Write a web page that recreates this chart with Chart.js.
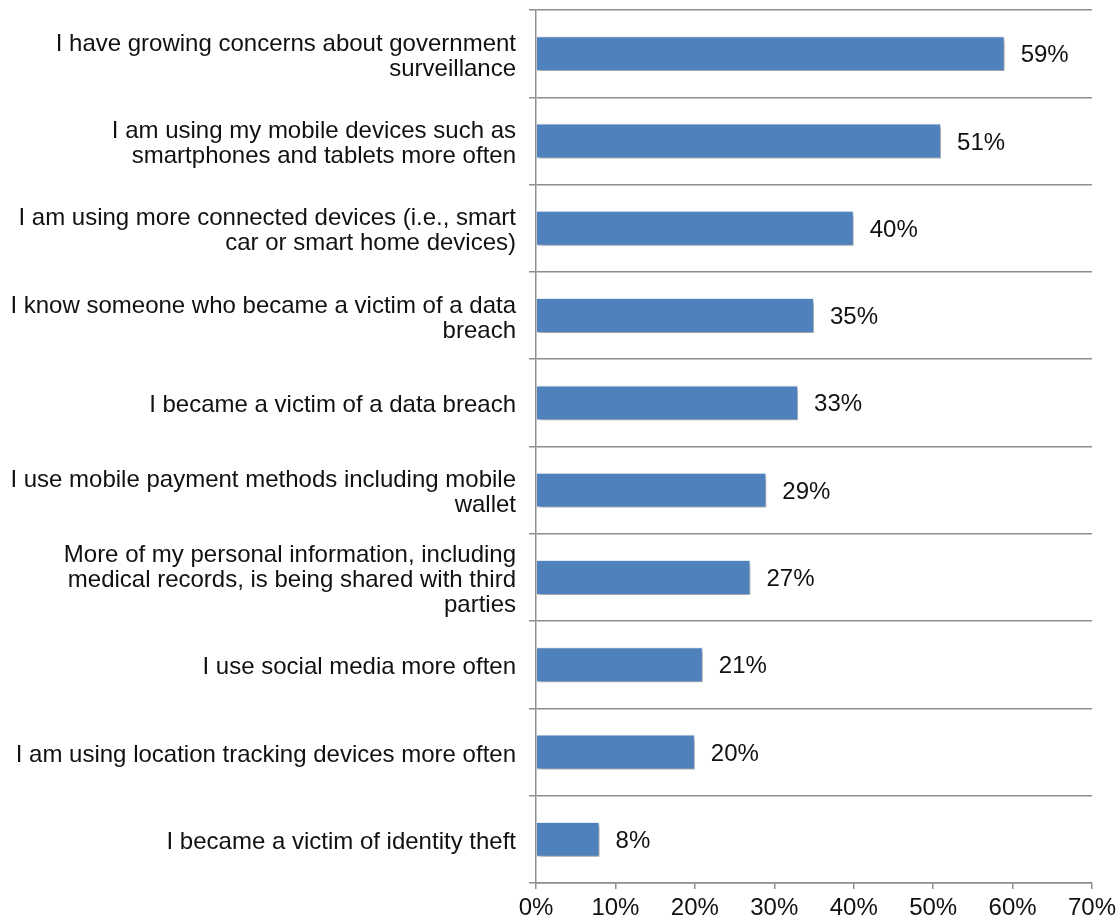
<!DOCTYPE html>
<html>
<head>
<meta charset="utf-8">
<script src="https://cdn.jsdelivr.net/npm/chart.js@4/dist/chart.umd.min.js"></script>
<style>
html,body{margin:0;padding:0;background:#fff;}
#wrap{width:1119px;height:919px;position:relative;}
</style>
</head>
<body>
<div id="wrap"><canvas id="c" width="1119" height="919"></canvas></div>
<script>
const categories = [
  ["I have growing concerns about government", "surveillance"],
  ["I am using my mobile devices such as", "smartphones and tablets more often"],
  ["I am using more connected devices (i.e., smart", "car or smart home devices)"],
  ["I know someone who became a victim of a data", "breach"],
  ["I became a victim of a data breach"],
  ["I use mobile payment methods including mobile", "wallet"],
  ["More of my personal information, including", "medical records, is being shared with third", "parties"],
  ["I use social media more often"],
  ["I am using location tracking devices more often"],
  ["I became a victim of identity theft"]
];
const values = [59, 51, 40, 35, 33, 29, 27, 21, 20, 8];
const xTicks = [0, 10, 20, 30, 40, 50, 60, 70];

const FONT = "'Liberation Sans', Arial, Helvetica, sans-serif";
const GRID = '#8e8e8e';

const shadowPlugin = {
  id: 'shadow',
  beforeDatasetDraw(chart) {
    const ctx = chart.ctx;
    ctx.save();
    ctx.shadowColor = 'rgba(0,0,0,0.35)';
    ctx.shadowBlur = 4;
    ctx.shadowOffsetX = 2;
    ctx.shadowOffsetY = 3;
  },
  afterDatasetDraw(chart) {
    chart.ctx.restore();
  }
};

const labelPlugin = {
  id: 'valueLabels',
  afterDatasetsDraw(chart) {
    const ctx = chart.ctx;
    const meta = chart.getDatasetMeta(0);
    ctx.save();
    ctx.font = '24px ' + FONT;
    ctx.fillStyle = '#111';
    ctx.textAlign = 'left';
    ctx.textBaseline = 'middle';
    meta.data.forEach((el, i) => {
      ctx.fillText(values[i] + '%', el.x + 16, el.y + 2);
    });
    ctx.restore();
  }
};

new Chart(document.getElementById('c'), {
  type: 'bar',
  data: {
    labels: categories,
    datasets: [{
      data: values,
      backgroundColor: '#4F81BD',
      borderColor: '#e8eef7',
      borderWidth: 1,
      barPercentage: 0.4,
      categoryPercentage: 1.0
    }]
  },
  options: {
    indexAxis: 'y',
    responsive: false,
    animation: false,
    layout: { padding: { top: 10, right: 27, left: 0, bottom: 0 } },
    plugins: { legend: { display: false }, tooltip: { enabled: false } },
    scales: {
      x: {
        min: 0, max: 70,
        afterBuildTicks(scale) { scale.ticks = xTicks.map(v => ({ value: v })); },
        afterFit(scale) { scale.height = 36; scale.paddingLeft = 0; scale.paddingRight = 0; },
        grid: { drawOnChartArea: false, drawTicks: true, tickLength: 6, color: GRID, lineWidth: 1.5 },
        border: { display: true, color: GRID, width: 1.5 },
        ticks: {
          padding: 5,
          color: '#111',
          font: { family: FONT, size: 24, lineHeight: 1.2 },
          maxRotation: 0,
          autoSkip: false,
          callback: v => v + '%'
        }
      },
      y: {
        afterFit(scale) { scale.width = 536; scale.paddingTop = 0; scale.paddingBottom = 0; },
        grid: { offset: true, drawTicks: true, tickLength: 7, color: GRID, lineWidth: 1.5 },
        border: { display: true, color: GRID, width: 1.5 },
        ticks: {
          padding: 13,
          labelOffset: 3,
          color: '#111',
          autoSkip: false,
          font: { family: FONT, size: 24, lineHeight: 1.05 }
        }
      }
    }
  },
  plugins: [shadowPlugin, labelPlugin]
});
</script>
</body>
</html>
